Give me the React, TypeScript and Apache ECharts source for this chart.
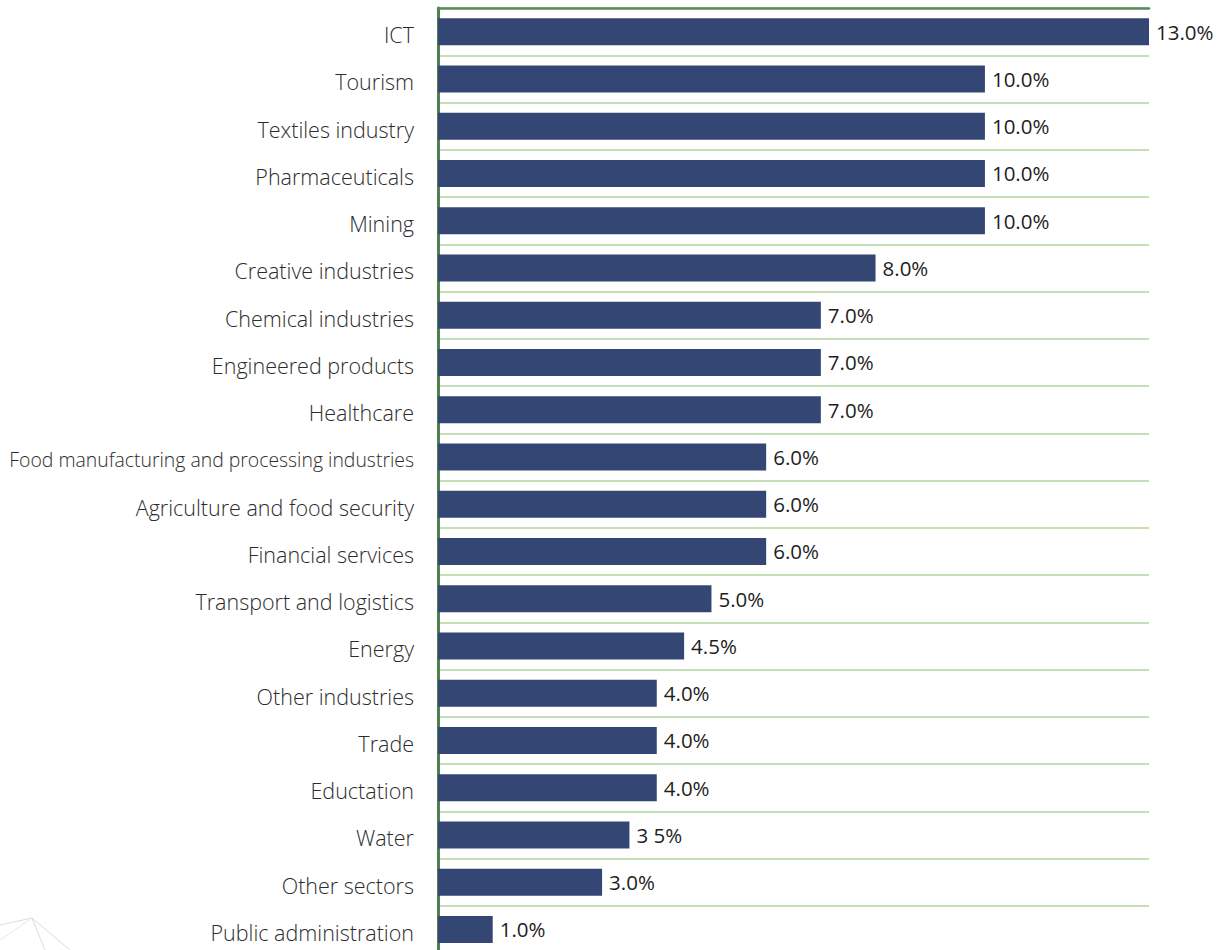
import React, { useEffect, useRef } from "react";
import * as echarts from "echarts";

const categories = [
  "ICT",
  "Tourism",
  "Textiles industry",
  "Pharmaceuticals",
  "Mining",
  "Creative industries",
  "Chemical industries",
  "Engineered products",
  "Healthcare",
  "Food manufacturing and processing industries",
  "Agriculture and food security",
  "Financial services",
  "Transport and logistics",
  "Energy",
  "Other industries",
  "Trade",
  "Eductation",
  "Water",
  "Other sectors",
  "Public administration",
];

const values = [13, 10, 10, 10, 10, 8, 7, 7, 7, 6, 6, 6, 5, 4.5, 4, 4, 4, 3.5, 3, 1];

const valueLabels = [
  "13.0%", "10.0%", "10.0%", "10.0%", "10.0%", "8.0%", "7.0%", "7.0%", "7.0%", "6.0%",
  "6.0%", "6.0%", "5.0%", "4.5%", "4.0%", "4.0%", "4.0%", "3 5%", "3.0%", "1.0%",
];

export default function App() {
  const ref = useRef<HTMLDivElement>(null);
  useEffect(() => {
    if (!ref.current) return;
    const chart = echarts.init(ref.current, null, { renderer: "svg" });
    chart.setOption({
      animation: false,
      backgroundColor: "#ffffff",
      grid: { left: 438, top: 8, width: 711, height: 945, containLabel: false },
      xAxis: {
        type: "value",
        position: "top",
        min: 0,
        max: 13,
        axisLine: { show: true, onZero: false, lineStyle: { color: "#5a8a5c", width: 2.5 } },
        axisTick: { show: false },
        axisLabel: { show: false },
        splitLine: { show: false },
      },
      yAxis: {
        type: "category",
        inverse: true,
        data: categories,
        axisLine: { show: true, lineStyle: { color: "#4f7f52", width: 3 } },
        axisTick: { show: false },
        splitLine: { show: true, lineStyle: { color: "#c3dfb5", width: 2 } },
        axisLabel: {
          margin: 24,
          color: "#2c2c2c",
          fontFamily: "Open Sans",
          fontWeight: 300,
          fontSize: 21.5,
          padding: [6, 0, 0, 0],
          formatter: (v: string) => (v.length > 30 ? "{s|" + v + "}" : v),
          rich: {
            s: { fontSize: 19.4, color: "#2c2c2c", fontFamily: "Open Sans", fontWeight: 300 },
          },
        },
      },
      series: [
        {
          type: "bar",
          data: values,
          barWidth: 27,
          itemStyle: { color: "#334674" },
          label: {
            show: true,
            position: "right",
            distance: 7,
            color: "#1e1e1e",
            fontFamily: "Open Sans",
            fontSize: 20.5,
            formatter: (p: any) => valueLabels[p.dataIndex],
          },
        },
      ],
      graphic: [
        {
          type: "polyline",
          shape: { points: [[0, 925], [32, 918], [70, 950]] },
          style: { stroke: "#dcdcdc", lineWidth: 1, fill: "none" },
        },
        {
          type: "polyline",
          shape: { points: [[32, 918], [45, 950]] },
          style: { stroke: "#dcdcdc", lineWidth: 1, fill: "none" },
        },
        {
          type: "polyline",
          shape: { points: [[0, 940], [32, 918]] },
          style: { stroke: "#e6e6e6", lineWidth: 1, fill: "none" },
        },
      ],
    });
    return () => chart.dispose();
  }, []);
  return (
    <div
      ref={ref}
      style={{ position: "absolute", left: 0, top: 0, width: 1221, height: 960 }}
    />
  );
}
